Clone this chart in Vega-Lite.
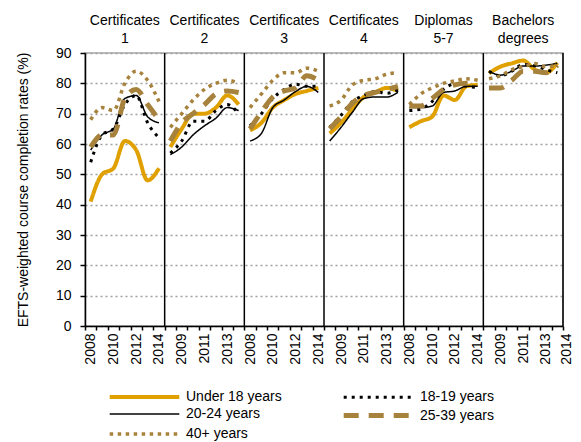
{
 "$schema": "https://vega.github.io/schema/vega-lite/v6.json",
 "width": 478, "height": 273,
 "autosize": "none",
 "padding": {"left": 85, "top": 53, "right": 18, "bottom": 116},
 "config": {"font": "Liberation Sans", "view": {"stroke": "#a6a6a6", "strokeWidth": 1.5}},
 "datasets": {
  "rates": [
   {"g":"Certificates 1","yr":2008,"age":"Under 18 years","v":41},{"g":"Certificates 1","yr":2009,"age":"Under 18 years","v":50},{"g":"Certificates 1","yr":2010,"age":"Under 18 years","v":52},{"g":"Certificates 1","yr":2011,"age":"Under 18 years","v":61},{"g":"Certificates 1","yr":2012,"age":"Under 18 years","v":58},{"g":"Certificates 1","yr":2013,"age":"Under 18 years","v":48},{"g":"Certificates 1","yr":2014,"age":"Under 18 years","v":52},
   {"g":"Certificates 2","yr":2008,"age":"Under 18 years","v":59},{"g":"Certificates 2","yr":2009,"age":"Under 18 years","v":65},{"g":"Certificates 2","yr":2010,"age":"Under 18 years","v":70},{"g":"Certificates 2","yr":2011,"age":"Under 18 years","v":70},{"g":"Certificates 2","yr":2012,"age":"Under 18 years","v":72},{"g":"Certificates 2","yr":2013,"age":"Under 18 years","v":76},{"g":"Certificates 2","yr":2014,"age":"Under 18 years","v":73},
   {"g":"Certificates 3","yr":2008,"age":"Under 18 years","v":64.5},{"g":"Certificates 3","yr":2009,"age":"Under 18 years","v":67},{"g":"Certificates 3","yr":2010,"age":"Under 18 years","v":72},{"g":"Certificates 3","yr":2011,"age":"Under 18 years","v":74.5},{"g":"Certificates 3","yr":2012,"age":"Under 18 years","v":76.5},{"g":"Certificates 3","yr":2013,"age":"Under 18 years","v":77.5},{"g":"Certificates 3","yr":2014,"age":"Under 18 years","v":78.5},
   {"g":"Certificates 4","yr":2008,"age":"Under 18 years","v":63.5},{"g":"Certificates 4","yr":2009,"age":"Under 18 years","v":67},{"g":"Certificates 4","yr":2010,"age":"Under 18 years","v":71.5},{"g":"Certificates 4","yr":2011,"age":"Under 18 years","v":75.5},{"g":"Certificates 4","yr":2012,"age":"Under 18 years","v":77},{"g":"Certificates 4","yr":2013,"age":"Under 18 years","v":78.5},{"g":"Certificates 4","yr":2014,"age":"Under 18 years","v":77.5},
   {"g":"Diplomas 5-7","yr":2008,"age":"Under 18 years","v":65.5},{"g":"Diplomas 5-7","yr":2009,"age":"Under 18 years","v":67.5},{"g":"Diplomas 5-7","yr":2010,"age":"Under 18 years","v":69},{"g":"Diplomas 5-7","yr":2011,"age":"Under 18 years","v":76},{"g":"Diplomas 5-7","yr":2012,"age":"Under 18 years","v":74.5},{"g":"Diplomas 5-7","yr":2013,"age":"Under 18 years","v":79},{"g":"Diplomas 5-7","yr":2014,"age":"Under 18 years","v":79.5},
   {"g":"Bachelors degrees","yr":2008,"age":"Under 18 years","v":83.3},{"g":"Bachelors degrees","yr":2009,"age":"Under 18 years","v":85.5},{"g":"Bachelors degrees","yr":2010,"age":"Under 18 years","v":86.6},{"g":"Bachelors degrees","yr":2011,"age":"Under 18 years","v":87.5},{"g":"Bachelors degrees","yr":2012,"age":"Under 18 years","v":84.6},{"g":"Bachelors degrees","yr":2013,"age":"Under 18 years","v":83.5},{"g":"Bachelors degrees","yr":2014,"age":"Under 18 years","v":86.8},

   {"g":"Certificates 1","yr":2008,"age":"18-19 years","v":54},{"g":"Certificates 1","yr":2009,"age":"18-19 years","v":63},{"g":"Certificates 1","yr":2010,"age":"18-19 years","v":65},{"g":"Certificates 1","yr":2011,"age":"18-19 years","v":73},{"g":"Certificates 1","yr":2012,"age":"18-19 years","v":76},{"g":"Certificates 1","yr":2013,"age":"18-19 years","v":67},{"g":"Certificates 1","yr":2014,"age":"18-19 years","v":62},
   {"g":"Certificates 2","yr":2008,"age":"18-19 years","v":57},{"g":"Certificates 2","yr":2009,"age":"18-19 years","v":61},{"g":"Certificates 2","yr":2010,"age":"18-19 years","v":67.5},{"g":"Certificates 2","yr":2011,"age":"18-19 years","v":67.5},{"g":"Certificates 2","yr":2012,"age":"18-19 years","v":71},{"g":"Certificates 2","yr":2013,"age":"18-19 years","v":73},{"g":"Certificates 2","yr":2014,"age":"18-19 years","v":70},
   {"g":"Certificates 3","yr":2008,"age":"18-19 years","v":66},{"g":"Certificates 3","yr":2009,"age":"18-19 years","v":70},{"g":"Certificates 3","yr":2010,"age":"18-19 years","v":75},{"g":"Certificates 3","yr":2011,"age":"18-19 years","v":78},{"g":"Certificates 3","yr":2012,"age":"18-19 years","v":79.7},{"g":"Certificates 3","yr":2013,"age":"18-19 years","v":79},{"g":"Certificates 3","yr":2014,"age":"18-19 years","v":79},
   {"g":"Certificates 4","yr":2008,"age":"18-19 years","v":65.5},{"g":"Certificates 4","yr":2009,"age":"18-19 years","v":69.5},{"g":"Certificates 4","yr":2010,"age":"18-19 years","v":74},{"g":"Certificates 4","yr":2011,"age":"18-19 years","v":76},{"g":"Certificates 4","yr":2012,"age":"18-19 years","v":77.3},{"g":"Certificates 4","yr":2013,"age":"18-19 years","v":76.7},{"g":"Certificates 4","yr":2014,"age":"18-19 years","v":77.8},
   {"g":"Diplomas 5-7","yr":2008,"age":"18-19 years","v":71},{"g":"Diplomas 5-7","yr":2009,"age":"18-19 years","v":71.5},{"g":"Diplomas 5-7","yr":2010,"age":"18-19 years","v":74},{"g":"Diplomas 5-7","yr":2011,"age":"18-19 years","v":78},{"g":"Diplomas 5-7","yr":2012,"age":"18-19 years","v":79.8},{"g":"Diplomas 5-7","yr":2013,"age":"18-19 years","v":79},{"g":"Diplomas 5-7","yr":2014,"age":"18-19 years","v":78.7},
   {"g":"Bachelors degrees","yr":2008,"age":"18-19 years","v":84},{"g":"Bachelors degrees","yr":2009,"age":"18-19 years","v":82.5},{"g":"Bachelors degrees","yr":2010,"age":"18-19 years","v":84},{"g":"Bachelors degrees","yr":2011,"age":"18-19 years","v":86.2},{"g":"Bachelors degrees","yr":2012,"age":"18-19 years","v":85.8},{"g":"Bachelors degrees","yr":2013,"age":"18-19 years","v":84.5},{"g":"Bachelors degrees","yr":2014,"age":"18-19 years","v":83.5},

   {"g":"Certificates 1","yr":2008,"age":"20-24 years","v":58},{"g":"Certificates 1","yr":2009,"age":"20-24 years","v":63},{"g":"Certificates 1","yr":2010,"age":"20-24 years","v":65},{"g":"Certificates 1","yr":2011,"age":"20-24 years","v":75},{"g":"Certificates 1","yr":2012,"age":"20-24 years","v":76},{"g":"Certificates 1","yr":2013,"age":"20-24 years","v":69},{"g":"Certificates 1","yr":2014,"age":"20-24 years","v":67},
   {"g":"Certificates 2","yr":2008,"age":"20-24 years","v":56.5},{"g":"Certificates 2","yr":2009,"age":"20-24 years","v":59},{"g":"Certificates 2","yr":2010,"age":"20-24 years","v":63},{"g":"Certificates 2","yr":2011,"age":"20-24 years","v":66},{"g":"Certificates 2","yr":2012,"age":"20-24 years","v":68.5},{"g":"Certificates 2","yr":2013,"age":"20-24 years","v":72},{"g":"Certificates 2","yr":2014,"age":"20-24 years","v":71},
   {"g":"Certificates 3","yr":2008,"age":"20-24 years","v":61},{"g":"Certificates 3","yr":2009,"age":"20-24 years","v":63.5},{"g":"Certificates 3","yr":2010,"age":"20-24 years","v":72},{"g":"Certificates 3","yr":2011,"age":"20-24 years","v":74.5},{"g":"Certificates 3","yr":2012,"age":"20-24 years","v":77.3},{"g":"Certificates 3","yr":2013,"age":"20-24 years","v":79},{"g":"Certificates 3","yr":2014,"age":"20-24 years","v":77},
   {"g":"Certificates 4","yr":2008,"age":"20-24 years","v":61},{"g":"Certificates 4","yr":2009,"age":"20-24 years","v":65.5},{"g":"Certificates 4","yr":2010,"age":"20-24 years","v":70.5},{"g":"Certificates 4","yr":2011,"age":"20-24 years","v":75},{"g":"Certificates 4","yr":2012,"age":"20-24 years","v":75.5},{"g":"Certificates 4","yr":2013,"age":"20-24 years","v":75.5},{"g":"Certificates 4","yr":2014,"age":"20-24 years","v":77},
   {"g":"Diplomas 5-7","yr":2008,"age":"20-24 years","v":72},{"g":"Diplomas 5-7","yr":2009,"age":"20-24 years","v":72},{"g":"Diplomas 5-7","yr":2010,"age":"20-24 years","v":72.5},{"g":"Diplomas 5-7","yr":2011,"age":"20-24 years","v":77},{"g":"Diplomas 5-7","yr":2012,"age":"20-24 years","v":77.5},{"g":"Diplomas 5-7","yr":2013,"age":"20-24 years","v":79},{"g":"Diplomas 5-7","yr":2014,"age":"20-24 years","v":79},
   {"g":"Bachelors degrees","yr":2008,"age":"20-24 years","v":84},{"g":"Bachelors degrees","yr":2009,"age":"20-24 years","v":82.7},{"g":"Bachelors degrees","yr":2010,"age":"20-24 years","v":84},{"g":"Bachelors degrees","yr":2011,"age":"20-24 years","v":85.7},{"g":"Bachelors degrees","yr":2012,"age":"20-24 years","v":85.7},{"g":"Bachelors degrees","yr":2013,"age":"20-24 years","v":86},{"g":"Bachelors degrees","yr":2014,"age":"20-24 years","v":86.6},

   {"g":"Certificates 1","yr":2008,"age":"25-39 years","v":59},{"g":"Certificates 1","yr":2009,"age":"25-39 years","v":63},{"g":"Certificates 1","yr":2010,"age":"25-39 years","v":63},{"g":"Certificates 1","yr":2011,"age":"25-39 years","v":75},{"g":"Certificates 1","yr":2012,"age":"25-39 years","v":78},{"g":"Certificates 1","yr":2013,"age":"25-39 years","v":73},{"g":"Certificates 1","yr":2014,"age":"25-39 years","v":68},
   {"g":"Certificates 2","yr":2008,"age":"25-39 years","v":61},{"g":"Certificates 2","yr":2009,"age":"25-39 years","v":67},{"g":"Certificates 2","yr":2010,"age":"25-39 years","v":70},{"g":"Certificates 2","yr":2011,"age":"25-39 years","v":73},{"g":"Certificates 2","yr":2012,"age":"25-39 years","v":76.5},{"g":"Certificates 2","yr":2013,"age":"25-39 years","v":77.5},{"g":"Certificates 2","yr":2014,"age":"25-39 years","v":77},
   {"g":"Certificates 3","yr":2008,"age":"25-39 years","v":65},{"g":"Certificates 3","yr":2009,"age":"25-39 years","v":70.5},{"g":"Certificates 3","yr":2010,"age":"25-39 years","v":75.5},{"g":"Certificates 3","yr":2011,"age":"25-39 years","v":77.5},{"g":"Certificates 3","yr":2012,"age":"25-39 years","v":78.5},{"g":"Certificates 3","yr":2013,"age":"25-39 years","v":82.5},{"g":"Certificates 3","yr":2014,"age":"25-39 years","v":81},
   {"g":"Certificates 4","yr":2008,"age":"25-39 years","v":65},{"g":"Certificates 4","yr":2009,"age":"25-39 years","v":69},{"g":"Certificates 4","yr":2010,"age":"25-39 years","v":73.5},{"g":"Certificates 4","yr":2011,"age":"25-39 years","v":76},{"g":"Certificates 4","yr":2012,"age":"25-39 years","v":77},{"g":"Certificates 4","yr":2013,"age":"25-39 years","v":78},{"g":"Certificates 4","yr":2014,"age":"25-39 years","v":79},
   {"g":"Diplomas 5-7","yr":2008,"age":"25-39 years","v":72.5},{"g":"Diplomas 5-7","yr":2009,"age":"25-39 years","v":72.5},{"g":"Diplomas 5-7","yr":2010,"age":"25-39 years","v":75},{"g":"Diplomas 5-7","yr":2011,"age":"25-39 years","v":78},{"g":"Diplomas 5-7","yr":2012,"age":"25-39 years","v":79.5},{"g":"Diplomas 5-7","yr":2013,"age":"25-39 years","v":80},{"g":"Diplomas 5-7","yr":2014,"age":"25-39 years","v":80},
   {"g":"Bachelors degrees","yr":2008,"age":"25-39 years","v":78.5},{"g":"Bachelors degrees","yr":2009,"age":"25-39 years","v":78.5},{"g":"Bachelors degrees","yr":2010,"age":"25-39 years","v":81},{"g":"Bachelors degrees","yr":2011,"age":"25-39 years","v":84},{"g":"Bachelors degrees","yr":2012,"age":"25-39 years","v":84},{"g":"Bachelors degrees","yr":2013,"age":"25-39 years","v":83.5},{"g":"Bachelors degrees","yr":2014,"age":"25-39 years","v":86},

   {"g":"Certificates 1","yr":2008,"age":"40+ years","v":68},{"g":"Certificates 1","yr":2009,"age":"40+ years","v":72},{"g":"Certificates 1","yr":2010,"age":"40+ years","v":71},{"g":"Certificates 1","yr":2011,"age":"40+ years","v":80},{"g":"Certificates 1","yr":2012,"age":"40+ years","v":84},{"g":"Certificates 1","yr":2013,"age":"40+ years","v":81},{"g":"Certificates 1","yr":2014,"age":"40+ years","v":74},
   {"g":"Certificates 2","yr":2008,"age":"40+ years","v":65.5},{"g":"Certificates 2","yr":2009,"age":"40+ years","v":70},{"g":"Certificates 2","yr":2010,"age":"40+ years","v":74.5},{"g":"Certificates 2","yr":2011,"age":"40+ years","v":78},{"g":"Certificates 2","yr":2012,"age":"40+ years","v":80},{"g":"Certificates 2","yr":2013,"age":"40+ years","v":81},{"g":"Certificates 2","yr":2014,"age":"40+ years","v":80},
   {"g":"Certificates 3","yr":2008,"age":"40+ years","v":72},{"g":"Certificates 3","yr":2009,"age":"40+ years","v":76.5},{"g":"Certificates 3","yr":2010,"age":"40+ years","v":81},{"g":"Certificates 3","yr":2011,"age":"40+ years","v":83.5},{"g":"Certificates 3","yr":2012,"age":"40+ years","v":83.5},{"g":"Certificates 3","yr":2013,"age":"40+ years","v":85},{"g":"Certificates 3","yr":2014,"age":"40+ years","v":84},
   {"g":"Certificates 4","yr":2008,"age":"40+ years","v":72.5},{"g":"Certificates 4","yr":2009,"age":"40+ years","v":74.5},{"g":"Certificates 4","yr":2010,"age":"40+ years","v":79.5},{"g":"Certificates 4","yr":2011,"age":"40+ years","v":81},{"g":"Certificates 4","yr":2012,"age":"40+ years","v":81.5},{"g":"Certificates 4","yr":2013,"age":"40+ years","v":83},{"g":"Certificates 4","yr":2014,"age":"40+ years","v":83.5},
   {"g":"Diplomas 5-7","yr":2008,"age":"40+ years","v":73},{"g":"Diplomas 5-7","yr":2009,"age":"40+ years","v":76.5},{"g":"Diplomas 5-7","yr":2010,"age":"40+ years","v":78.5},{"g":"Diplomas 5-7","yr":2011,"age":"40+ years","v":80},{"g":"Diplomas 5-7","yr":2012,"age":"40+ years","v":80.8},{"g":"Diplomas 5-7","yr":2013,"age":"40+ years","v":81.5},{"g":"Diplomas 5-7","yr":2014,"age":"40+ years","v":81},
   {"g":"Bachelors degrees","yr":2008,"age":"40+ years","v":81.5},{"g":"Bachelors degrees","yr":2009,"age":"40+ years","v":82.5},{"g":"Bachelors degrees","yr":2010,"age":"40+ years","v":84.5},{"g":"Bachelors degrees","yr":2011,"age":"40+ years","v":85.5},{"g":"Bachelors degrees","yr":2012,"age":"40+ years","v":86.5},{"g":"Bachelors degrees","yr":2013,"age":"40+ years","v":85.5},{"g":"Bachelors degrees","yr":2014,"age":"40+ years","v":86}
  ],
  "groups": [{"g":"Certificates 1"},{"g":"Certificates 2"},{"g":"Certificates 3"},{"g":"Certificates 4"},{"g":"Diplomas 5-7"},{"g":"Bachelors degrees"}]
 },
 "layer": [
  {
   "data": {"name": "rates"},
   "transform": [{"calculate": "datum.g + '|' + datum.yr", "as": "k"}],
   "mark": {"type": "line", "interpolate": "monotone"},
   "encoding": {
    "x": {"field": "k", "type": "ordinal", "sort": null,
      "scale": {"paddingInner": 0, "paddingOuter": 0},
      "axis": {"title": null, "tickBand": "extent", "labelAngle": -90, "labelAlign": "right", "labelBaseline": "middle",
        "labelExpr": "(round(datum.index*41) % 2 == 0 || round(datum.index*41) == 41) ? split(datum.value, '|')[1] : ''",
        "labelOffset": {"condition": {"test": "round(datum.index*41) == 41", "value": 9}, "value": 0},
        "labelOverlap": false, "labelBound": false, "labelFontSize": 14, "labelColor": "black", "tickColor": "black", "domainColor": "black",
        "tickSize": 4, "labelPadding": 3, "domainWidth": 1.5, "tickWidth": 1.5, "grid": false}},
    "y": {"field": "v", "type": "quantitative", "scale": {"domain": [0, 90], "nice": false, "zero": true},
      "axis": {"title": "EFTS-weighted course completion rates (%)", "values": [0,10,20,30,40,50,60,70,80,90],
        "grid": true, "gridDash": [2, 3], "gridColor": "#a0a0a0", "gridWidth": 1.5,
        "domainColor": "black", "domainWidth": 1.5, "tickColor": "black", "tickWidth": 1.5, "tickSize": 5, "labelPadding": 9,
        "labelFontSize": 14, "labelColor": "black", "titleFontSize": 14, "titleFontWeight": "normal", "titleColor": "black", "titlePadding": 25}},
    "color": {"field": "age", "type": "nominal",
      "scale": {"domain": ["Under 18 years","18-19 years","20-24 years","25-39 years","40+ years"], "range": ["#E0A000","#000000","#000000","#A6823C","#A6823C"]},
      "legend": {"orient": "none", "direction": "horizontal", "legendX": 51, "legendY": 336, "title": null, "columns": 2, "symbolType": "M-5.8,0H5.8", "symbolSize": 144,
        "labelFontSize": 14, "labelColor": "black", "labelOffset": 33, "columnPadding": 51, "rowPadding": 0, "padding": 0, "labelLimit": 300}},
    "strokeDash": {"field": "age", "type": "nominal",
      "scale": {"domain": ["Under 18 years","18-19 years","20-24 years","25-39 years","40+ years"], "range": [[1,0],[3,5],[1,0],[15,10],[3.5,4.5]]}},
    "strokeWidth": {"field": "age", "type": "nominal",
      "scale": {"type": "ordinal", "domain": ["Under 18 years","18-19 years","20-24 years","25-39 years","40+ years"], "range": [4,3,1.5,5,3.5]}},
    "detail": {"field": "g"}
   }
  },
  {
   "data": {"name": "groups"},
   "mark": {"type": "rule", "color": "black", "strokeWidth": 1.5},
   "encoding": {
    "x": {"field": "g", "type": "ordinal", "sort": null, "bandPosition": 1,
      "scale": {"paddingInner": 0, "paddingOuter": 0},
      "axis": {"orient": "top", "title": null, "domain": false, "ticks": false, "grid": false, "labelAngle": 0,
        "labelExpr": "split(datum.value, ' ')", "labelFontSize": 14, "labelColor": "black", "labelBaseline": "top", "labelPadding": 40, "labelLineHeight": 18,
        "labelOverlap": false, "labelBound": false}}
   }
  }
 ],
 "resolve": {"scale": {"x": "independent"}}
}
